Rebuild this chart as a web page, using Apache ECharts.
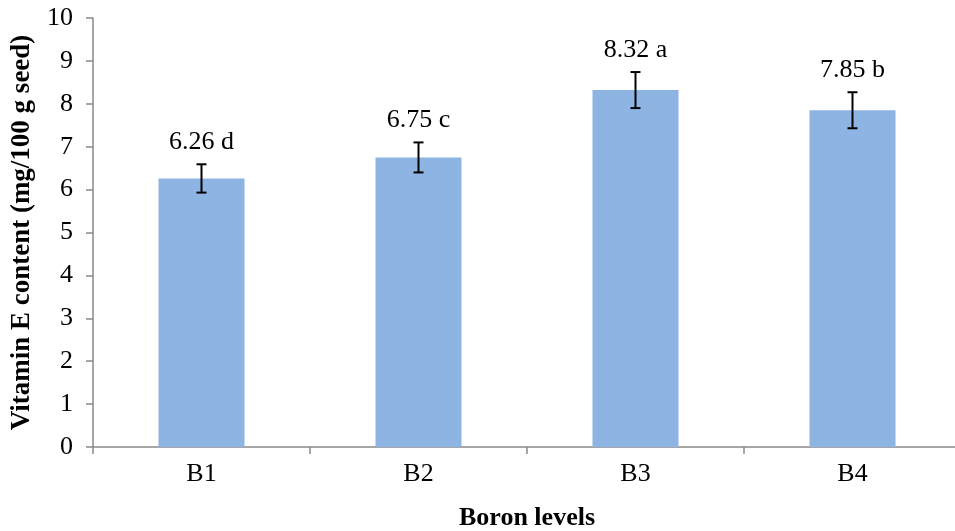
<!DOCTYPE html>
<html><head><meta charset="utf-8">
<script src="https://cdn.jsdelivr.net/npm/echarts@6/dist/echarts.min.js"></script>
<style>html,body{margin:0;padding:0;background:#fff}#c{width:955px;height:531px}</style>
</head><body><div id="c"></div>
<script>
const categories = ['B1', 'B2', 'B3', 'B4'];
const values = [6.26, 6.75, 8.32, 7.85];
const errors = [0.33, 0.35, 0.42, 0.42];
const letters = ['d', 'c', 'a', 'b'];
const yTicks = [0, 1, 2, 3, 4, 5, 6, 7, 8, 9, 10];

const chart = echarts.init(document.getElementById('c'));
const font = '"Liberation Serif", "Times New Roman", serif';
const axisColor = '#898989';

chart.setOption({
  animation: false,
  grid: { left: 93, right: -6, top: 18, bottom: 84, outerBoundsMode: 'none', containLabel: false },
  xAxis: {
    type: 'category', data: categories,
    name: 'Boron levels', nameLocation: 'middle', nameGap: 58,
    nameTextStyle: { fontFamily: font, fontWeight: 'bold', fontSize: 26, color: '#000' },
    axisLine: { lineStyle: { color: axisColor, width: 1.5 } },
    axisTick: { show: true, length: 7, lineStyle: { color: axisColor, width: 1.5 } },
    axisLabel: { fontFamily: font, fontSize: 26, color: '#000', margin: 14 }
  },
  yAxis: {
    type: 'value', min: yTicks[0], max: yTicks[yTicks.length - 1], interval: 1,
    name: 'Vitamin E content (mg/100 g seed)', nameLocation: 'middle', nameGap: 57,
    nameTextStyle: { fontFamily: font, fontWeight: 'bold', fontSize: 27, color: '#000' },
    axisLine: { show: true, lineStyle: { color: axisColor, width: 1.5 } },
    axisTick: { show: true, length: 7, lineStyle: { color: axisColor, width: 1.5 } },
    axisLabel: { fontFamily: font, fontSize: 26, color: '#000', margin: 20 },
    splitLine: { show: false }
  },
  series: [
    {
      type: 'bar', data: values, barWidth: 86,
      itemStyle: { color: '#8EB4E3' }
    },
    {
      type: 'custom',
      data: values.map((v, i) => [i, v, errors[i]]),
      renderItem: function (params, api) {
        const i = api.value(0), v = api.value(1), e = api.value(2);
        const top = api.coord([i, v + e]);
        const bot = api.coord([i, v - e]);
        const cap = 5;
        const st = { stroke: '#000', lineWidth: 2 };
        return {
          type: 'group',
          children: [
            { type: 'line', shape: { x1: top[0], y1: top[1], x2: bot[0], y2: bot[1] }, style: st },
            { type: 'line', shape: { x1: top[0] - cap, y1: top[1], x2: top[0] + cap, y2: top[1] }, style: st },
            { type: 'line', shape: { x1: bot[0] - cap, y1: bot[1], x2: bot[0] + cap, y2: bot[1] }, style: st },
            { type: 'text', x: top[0], y: top[1] - 9,
              style: { text: v.toFixed(2) + ' ' + letters[i], fontFamily: font, fontSize: 26, fill: '#000', align: 'center', verticalAlign: 'bottom' } }
          ]
        };
      },
      z: 5
    }
  ]
});
</script></body></html>
